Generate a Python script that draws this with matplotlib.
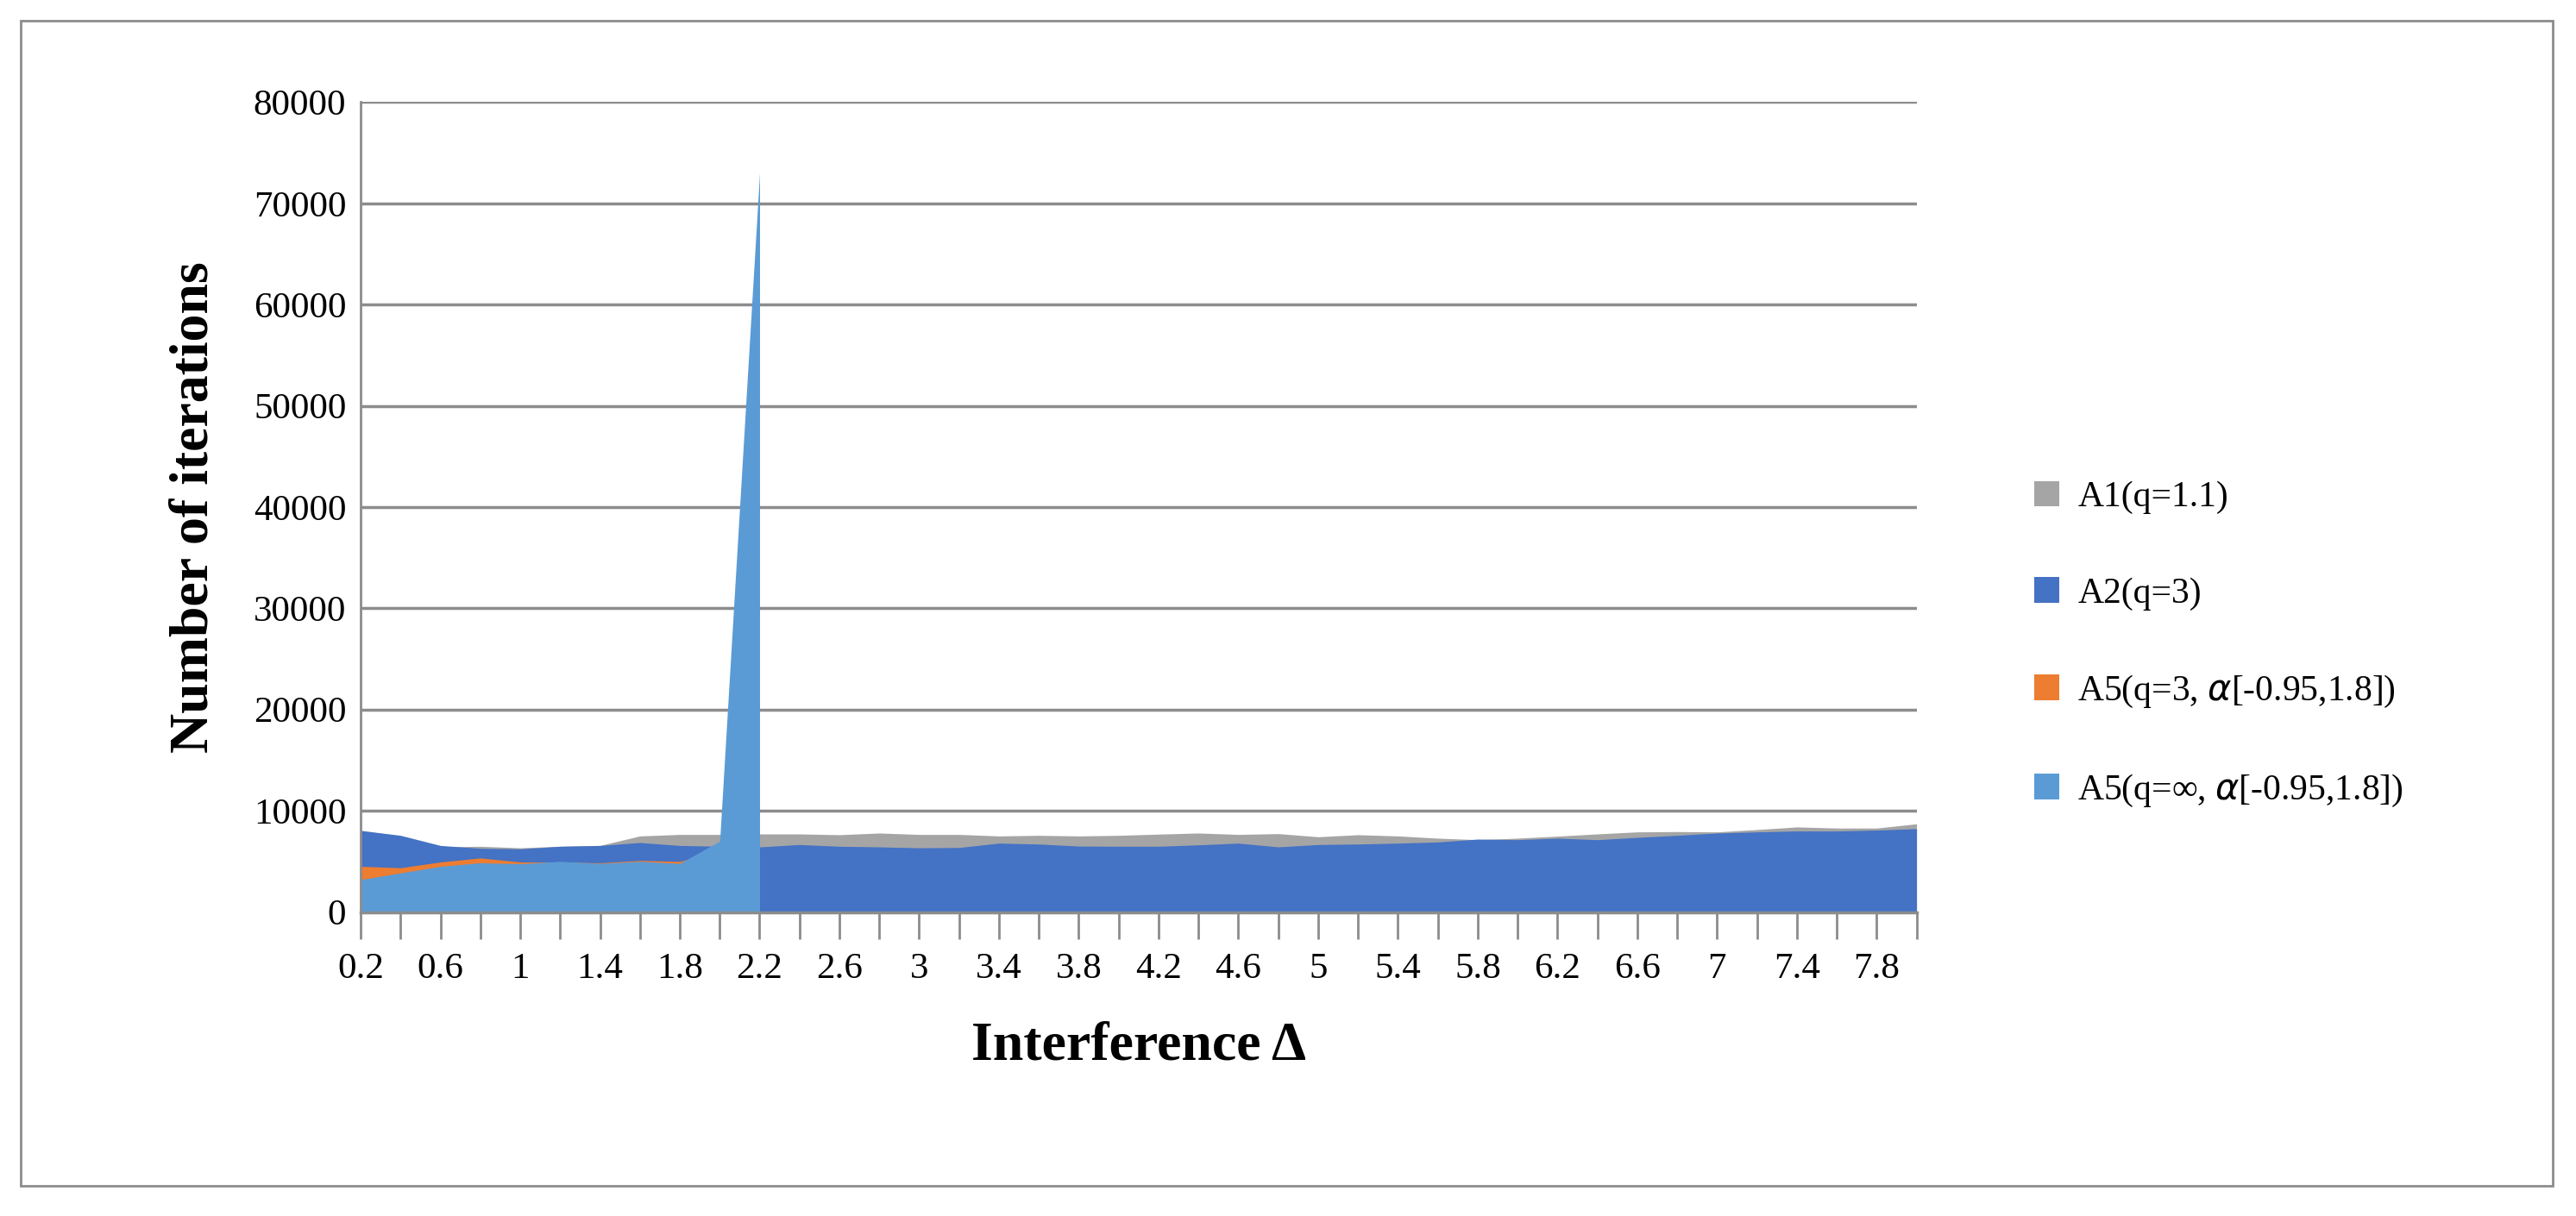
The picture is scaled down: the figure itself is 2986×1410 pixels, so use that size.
import matplotlib.pyplot as plt
import numpy as np
from matplotlib.patches import Rectangle

# data
delta = [round(0.2 * i, 1) for i in range(1, 41)]
a1 = [7800, 7400, 6430, 6490, 6340, 6490, 6570, 7510, 7660, 7660,
      7710, 7710, 7630, 7800, 7660, 7660, 7510, 7570, 7510, 7570,
      7690, 7800, 7660, 7740, 7430, 7630, 7510, 7290, 7140, 7290,
      7490, 7710, 7910, 7940, 7910, 8140, 8400, 8290, 8290, 8710]
a2 = [8060, 7570, 6570, 6290, 6230, 6490, 6570, 6860, 6570, 6490,
      6430, 6660, 6490, 6430, 6340, 6370, 6800, 6710, 6510, 6490,
      6490, 6630, 6800, 6430, 6660, 6710, 6800, 6910, 7200, 7140,
      7290, 7140, 7370, 7570, 7800, 7910, 8000, 8000, 8090, 8230]
a5_q3 = [4510, 4370, 4940, 5340, 4940, 4940, 4860, 5090, 5000, 6000]
a5_inf = [3200, 3860, 4510, 4860, 4770, 5000, 4800, 5000, 4800, 7000, 73000]

plt.rcParams['font.family'] = ['Liberation Serif', 'DejaVu Serif']

fig = plt.figure(figsize=(29.86, 14.1), dpi=100)
fig.patches.append(Rectangle((0.008, 0.025), 0.983, 0.958, transform=fig.transFigure,
                             fill=False, edgecolor='#8c8c8c', lw=2))
ax = fig.add_axes([0.140, 0.25, 0.604, 0.666])

x = np.arange(len(delta))
ax.fill_between(x, a1, color='#a5a5a5', lw=0, label='A1(q=1.1)')
ax.fill_between(x, a2, color='#4472c4', lw=0, label='A2(q=3)')
ax.fill_between(x[:len(a5_q3)], a5_q3, color='#ed7d31', lw=0,
                label='A5(q=3, $\\alpha$[-0.95,1.8])')
ax.fill_between(x[:len(a5_inf)], a5_inf, color='#5b9bd5', lw=0,
                label='A5(q=∞, $\\alpha$[-0.95,1.8])')

ax.set_xlim(0, len(delta) - 1)
ax.set_ylim(0, 80000)
ax.set_yticks(np.arange(0, 80001, 10000))
ax.yaxis.grid(True, color='#8c8c8c', lw=2.5)
ax.set_axisbelow(True)
ax.set_xticks(x)
ax.set_xticklabels([f"{d:g}" if i % 2 == 0 else "" for i, d in enumerate(delta)])
ax.tick_params(axis='x', length=22, width=2, color='#8c8c8c', labelsize=31, pad=12)
ax.tick_params(axis='y', length=0, labelsize=31, pad=12)
for s in ['top', 'right']:
    ax.spines[s].set_visible(False)
ax.spines['left'].set_color('#8c8c8c')
ax.spines['left'].set_linewidth(2)
ax.spines['bottom'].set_color('#8c8c8c')
ax.spines['bottom'].set_linewidth(2.5)

ax.set_xlabel('Interference Δ', fontsize=46, fontweight='bold', labelpad=30)
ax.set_ylabel('Number of iterations', fontsize=46, fontweight='bold', labelpad=28)

ax.legend(loc='center left', bbox_to_anchor=(1.055, 0.33), frameon=False,
          fontsize=30, labelspacing=1.75, handlelength=0.7, handleheight=0.7,
          handletextpad=0.5)

plt.savefig('out.png', dpi=100)
